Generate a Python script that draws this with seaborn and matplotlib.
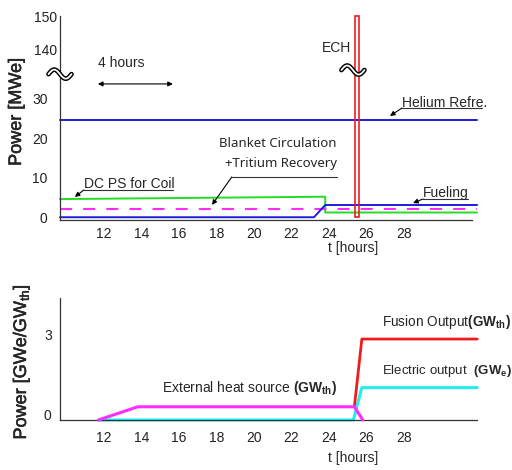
import numpy as np
import matplotlib
matplotlib.use('agg')
import matplotlib.pyplot as plt
import matplotlib.patheffects as pe
import matplotlib.transforms as mtrans
import seaborn as sns

# top panel: auxiliary power [MWe] vs time [hours]
t_helium = [9.65, 31.9]
p_helium = [24.6, 24.6]
t_green = [9.65, 23.8, 23.8, 31.9]
p_green = [4.6, 5.2, 1.2, 1.2]
t_dash = [9.65, 31.9]
p_dash = [2.0, 2.0]
t_fuel = [9.65, 23.2, 23.8, 31.9]
p_fuel = [0.0, 0.0, 3.1, 3.1]
ech_start, ech_end, ech_power = 25.4, 25.62, 150
top_yticks = [0, 10, 20, 30, 140, 150]

# bottom panel: GWe / GWth vs time [hours]
t_heat = [11.7, 13.8, 25.35, 25.8]
p_heat = [0.0, 0.49, 0.49, 0.0]
t_elec = [11.7, 25.3, 25.75, 31.9]
p_elec = [0.0, 0.0, 1.2, 1.2]
t_fus = [25.35, 25.75, 31.9]
p_fus = [0.49, 3.0, 3.0]
bot_yticks = [0, 3]

xticks = [12, 14, 16, 18, 20, 22, 24, 26, 28]

sns.set_style('white')
plt.rcParams['font.family'] = ['Liberation Sans', 'DejaVu Sans']
plt.rcParams['mathtext.fontset'] = 'custom'
plt.rcParams['mathtext.rm'] = 'Liberation Sans'
plt.rcParams['mathtext.bf'] = 'Liberation Sans:bold'
plt.rcParams['mathtext.it'] = 'Liberation Sans:italic'

BLUE = '#1c1ce0'
GREEN = '#22dd22'
MAG = '#ff2cff'
RED = '#ee1c1c'
CYAN = '#22eeee'


# broken y axis: 0-35 linear, 35-140 squeezed, 140+ slightly compressed
def fwd(v):
    v = np.asarray(v, dtype=float)
    return np.where(v <= 35, v,
                    np.where(v < 140, 35 + (v - 35) * 7.4 / 105,
                             42.4 + (v - 140) * 0.86))


def inv(d):
    d = np.asarray(d, dtype=float)
    return np.where(d <= 35, d,
                    np.where(d < 42.4, 35 + (d - 35) * 105 / 7.4,
                             140 + (d - 42.4) / 0.86))


fig = plt.figure(figsize=(5.12, 4.70), dpi=100)
ax1 = fig.add_axes([60 / 512, 1 - 220 / 470, 412 / 512, 204 / 470])
ax2 = fig.add_axes([60 / 512, 1 - 420 / 470, 417 / 512, 122 / 470])

thick = [pe.withStroke(linewidth=0.35, foreground='#111111')]

# ---- top panel
ax1.set_yscale('function', functions=(fwd, inv))
ax1.bar((ech_start + ech_end) / 2, ech_power, width=ech_end - ech_start,
        bottom=0, fill=False, edgecolor=RED, lw=1.2, clip_on=False, zorder=3)
sns.lineplot(x=t_helium, y=p_helium, ax=ax1, color=BLUE, lw=1.4,
             sort=False, estimator=None, clip_on=False, zorder=2)
sns.lineplot(x=t_green, y=p_green, ax=ax1, color=GREEN, lw=1.4,
             sort=False, estimator=None, clip_on=False, zorder=2)
sns.lineplot(x=t_dash, y=p_dash, ax=ax1, color=MAG, lw=1.5,
             linestyle=(0, (5.8, 5.3)), sort=False, estimator=None,
             clip_on=False, zorder=2)
sns.lineplot(x=t_fuel, y=p_fuel, ax=ax1, color=BLUE, lw=1.4,
             sort=False, estimator=None, clip_on=False, zorder=2)

ax1.set_xlim(9.653, 31.63)
ax1.set_ylim(-0.7, 150)
ax1.set_xticks(xticks)
ax1.set_yticks(top_yticks)
ax1.tick_params(axis='both', length=0, labelsize=10, colors='#222222')
ax1.tick_params(axis='x', pad=5)
ax1.tick_params(axis='y', pad=9)
for tk, v in zip(ax1.yaxis.get_major_ticks(), top_yticks):
    if v >= 140:
        tk.set_pad(2)
for s in ['top', 'right']:
    ax1.spines[s].set_visible(False)
for s in ['left', 'bottom']:
    ax1.spines[s].set_color('#333333')
    ax1.spines[s].set_linewidth(0.9)
ax1.set_ylabel('Power [MWe]', fontsize=13, path_effects=thick)
ax1.yaxis.set_label_coords(-0.085, 0.529)
ax1.set_xlabel('')
ax1.text(0.711, -0.137, 't [hours]', transform=ax1.transAxes,
         ha='center', va='center', fontsize=10)

# axis-break marks: a small double-stroked wave
wx = np.linspace(-0.115, 0.115, 60)
wy = -0.045 * np.sin(2 * np.pi * wx / 0.23)
for xx, yy in [(0.0, 0.715), (0.711, 0.735)]:
    tr = fig.dpi_scale_trans + mtrans.ScaledTranslation(xx, yy, ax1.transAxes)
    ax1.plot(wx, wy, transform=tr, color='black', lw=3.4, clip_on=False,
             zorder=5, solid_capstyle='round')
    ax1.plot(wx, wy, transform=tr, color='white', lw=1.3, clip_on=False,
             zorder=6, solid_capstyle='round')

ax1.text(0.092, 0.770, '4 hours', transform=ax1.transAxes, ha='left',
         va='center', fontsize=10)
ax1.annotate('', xy=(0.274, 0.667), xytext=(0.092, 0.667),
             xycoords='axes fraction',
             arrowprops=dict(arrowstyle='<|-|>', color='black', lw=0.8,
                             mutation_scale=7, shrinkA=0, shrinkB=0))
ax1.text(0.672, 0.843, 'ECH', transform=ax1.transAxes, ha='center',
         va='center', fontsize=10)


def tag(ax, label, x0, x1, ytxt, yline, tip):
    ax.text(x0, ytxt, label, transform=ax.transAxes, ha='left', va='center',
            fontsize=10)
    ax.plot([x0, x1], [yline, yline], transform=ax.transAxes, color='#333333',
            lw=0.8, clip_on=False)
    ax.annotate('', xy=tip, xytext=(x0, yline), xycoords='axes fraction',
                arrowprops=dict(arrowstyle='-|>', color='black', lw=0.8,
                                mutation_scale=7, shrinkA=0, shrinkB=0))


tag(ax1, 'Helium Refre.', 0.830, 1.024, 0.574, 0.549, (0.801, 0.510))
tag(ax1, 'DC PS for Coil', 0.058, 0.274, 0.176, 0.147, (0.036, 0.113))
tag(ax1, 'Fueling', 0.881, 0.990, 0.132, 0.103, (0.857, 0.083))
ax1.text(0.672, 0.373, 'Blanket Circulation', transform=ax1.transAxes,
         ha='right', va='center', fontsize=9.5, family='Noto Sans')
ax1.text(0.672, 0.279, '+Tritium Recovery', transform=ax1.transAxes,
         ha='right', va='center', fontsize=9.5, family='Noto Sans')
ax1.plot([0.417, 0.672], [0.211, 0.211], transform=ax1.transAxes,
         color='#333333', lw=0.8, clip_on=False)
ax1.annotate('', xy=(0.369, 0.074), xytext=(0.417, 0.211),
             xycoords='axes fraction',
             arrowprops=dict(arrowstyle='-|>', color='black', lw=0.8,
                             mutation_scale=7, shrinkA=0, shrinkB=0))

# ---- bottom panel
sns.lineplot(x=t_heat, y=p_heat, ax=ax2, color=MAG, lw=2.2,
             sort=False, estimator=None, clip_on=False, zorder=3)
sns.lineplot(x=t_elec, y=p_elec, ax=ax2, color=CYAN, lw=2.2,
             sort=False, estimator=None, clip_on=False, zorder=2)
sns.lineplot(x=t_fus, y=p_fus, ax=ax2, color=RED, lw=2.0,
             sort=False, estimator=None, clip_on=False, zorder=2)
ax2.set_xlim(9.653, 31.89)
ax2.set_ylim(0, 4.52)
ax2.set_xticks(xticks)
ax2.set_yticks(bot_yticks)
ax2.tick_params(axis='both', length=0, labelsize=10, colors='#222222')
ax2.tick_params(axis='x', pad=8)
ax2.tick_params(axis='y', pad=6)
# tick labels sit a little above their level in the original
lift = mtrans.ScaledTranslation(0, 5 / 100, fig.dpi_scale_trans)
for tk in ax2.yaxis.get_major_ticks():
    tk.label1.set_transform(tk.label1.get_transform() + lift)
for s in ['top', 'right']:
    ax2.spines[s].set_visible(False)
for s in ['left', 'bottom']:
    ax2.spines[s].set_color('#333333')
    ax2.spines[s].set_linewidth(0.9)
ax2.set_ylabel(r'Power [GWe/GW$_{\mathrm{th}}$]', fontsize=13, path_effects=thick)
ax2.yaxis.set_label_coords(-0.067, 0.475)
ax2.set_xlabel('')
ax2.text(0.703, -0.311, 't [hours]', transform=ax2.transAxes,
         ha='center', va='center', fontsize=10)

ax2.text(0.245, 0.262, r'External heat source $\mathbf{(GW_{th})}$',
         transform=ax2.transAxes, ha='left', va='center', fontsize=10)
ax2.text(0.772, 0.803, r'Fusion Output$\mathbf{(GW_{th})}$',
         transform=ax2.transAxes, ha='left', va='center', fontsize=9.8)
ax2.text(0.772, 0.402, r'Electric output  $\mathbf{(GW_{e})}$',
         transform=ax2.transAxes, ha='left', va='center', fontsize=9.5)

fig.savefig('out.png', dpi=100)
